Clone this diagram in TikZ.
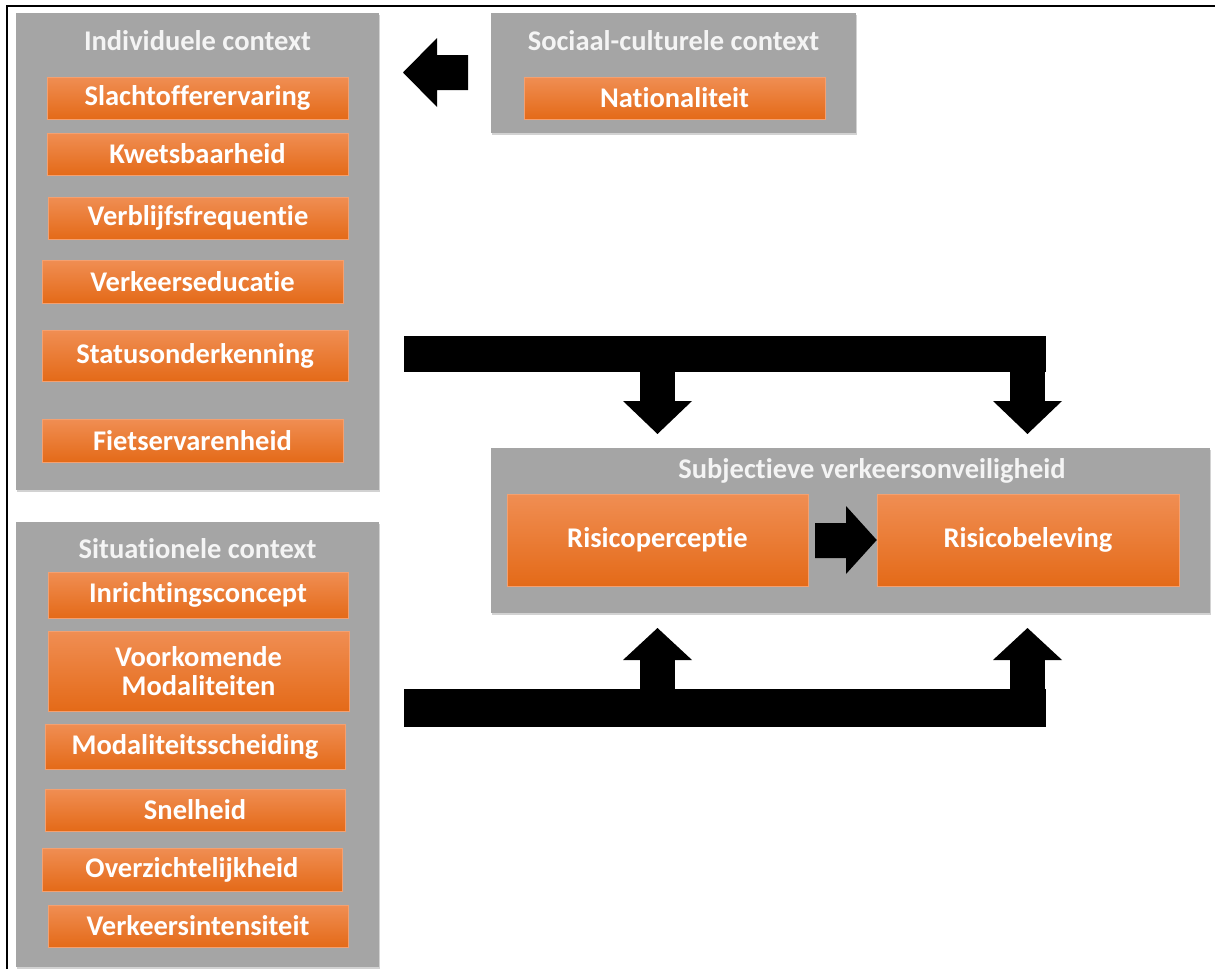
\documentclass[tikz,border=0pt]{standalone}
\usepackage{fontspec}
\setmainfont{Carlito}[Ligatures={NoCommon,NoRequired,NoContextual}]
\usetikzlibrary{shadows,calc}
\definecolor{boxgray}{HTML}{A5A5A5}
\definecolor{titlegray}{HTML}{F4F4F4}
\definecolor{orTop}{HTML}{F08E53}
\definecolor{orMid}{HTML}{F47E30}
\definecolor{orBot}{HTML}{E46A18}
\definecolor{orEdge}{HTML}{F4A070}
\tikzset{
  graybox/.style={rectangle, fill=boxgray, inner sep=0pt,
    drop shadow={shadow xshift=1.2pt, shadow yshift=-2.2pt, opacity=0.35}},
  obox/.style={rectangle, inner sep=0pt, top color=orTop, middle color=orMid,
    bottom color=orBot, draw=orEdge, line width=0.5pt, text=white,
    font=\fontsize{28.5}{30}\selectfont\bfseries, align=center},
  gtitle/.style={text=titlegray, font=\fontsize{28.5}{30}\selectfont\bfseries, inner sep=0pt},
  blk/.style={fill=black, draw=none}
}
\begin{document}
\begin{tikzpicture}[x=1pt,y=-1pt]
\useasboundingbox (0,0) rectangle (1215,969);
\fill[white] (0,0) rectangle (1215,969);
% frame lines
\draw[line width=2.5pt, black] (7,969) -- (7,6) -- (1215,6);

% containers
\node[graybox, minimum width=363pt, minimum height=477pt] (ind) at (197.5,251.5) {};
\node[graybox, minimum width=365pt, minimum height=120pt] (soc) at (673.5,73) {};
\node[graybox, minimum width=363pt, minimum height=445pt] (sit) at (197.5,744.5) {};
\node[graybox, minimum width=719pt, minimum height=165pt] (subj) at (850.5,530.5) {};

% titles
\node[gtitle] (indt) at (197.5,41) {Individuele context};
\node[gtitle] (soct) at (673.5,41) {Sociaal-culturele context};
\node[gtitle] (sitt) at (197.5,549) {Situationele context};
\node[gtitle] (subjt) at (872,471) {Subjectieve verkeersonveiligheid};

% individual context
\node[obox, minimum width=301pt, minimum height=42pt] (i1) at (197.5,98) {Slachtofferervaring};
\node[obox, minimum width=301pt, minimum height=42pt] (i2) at (197.5,154) {Kwetsbaarheid};
\node[obox, minimum width=300pt, minimum height=42pt] (i3) at (198,218) {Verblijfsfrequentie};
\node[obox, minimum width=301pt, minimum height=43pt] (i4) at (192.5,281.5) {Verkeerseducatie};
\node[obox, minimum width=306pt, minimum height=51pt] (i5) at (195,355.5) {Statusonderkenning};
\node[obox, minimum width=301pt, minimum height=43pt] (i6) at (192.5,440.5) {Fietservarenheid};

% social-cultural
\node[obox, minimum width=301pt, minimum height=42pt] (s1) at (674.5,98) {Nationaliteit};

% situational
\node[obox, minimum width=300pt, minimum height=46pt] (c1) at (198,595) {Inrichtingsconcept};
\node[obox, minimum width=301pt, minimum height=80pt] (c2) at (198.5,671) {Voorkomende\\[-1pt]Modaliteiten};
\node[obox, minimum width=300pt, minimum height=45pt] (c3) at (195,746.5) {Modaliteitsscheiding};
\node[obox, minimum width=300pt, minimum height=42pt] (c4) at (195,810) {Snelheid};
\node[obox, minimum width=300pt, minimum height=43pt] (c5) at (192,869.5) {Overzichtelijkheid};
\node[obox, minimum width=300pt, minimum height=42pt] (c6) at (198,926) {Verkeersintensiteit};

% subjective
\node[obox, minimum width=301pt, minimum height=92pt] (perc) at (657.5,540) {Risicoperceptie};
\node[obox, minimum width=302pt, minimum height=92pt] (bel) at (1028,540) {Risicobeleving};

% arrow social -> individual
\fill[blk] (468,55) -- (437,55) -- (437,38) -- (403,72.5) -- (437,107) -- (437,90) -- (468,90) -- cycle;

% arrow perception -> beleving
\fill[blk] (815,523) -- (846,523) -- (846,506) -- (bel.west) -- (846,574) -- (846,558) -- (815,558) -- cycle;

% top bar with down arrows
\coordinate (tl) at (657.5,434);
\coordinate (tr) at (1027.5,434);
\fill[blk] (404,336) rectangle (1046,372);
\fill[blk] ($(tl)+(-17.5,-62)$) rectangle ($(tl)+(17.5,-32)$);
\fill[blk] ($(tl)+(-34.5,-33)$) -- ($(tl)+(34.5,-33)$) -- (tl) -- cycle;
\fill[blk] ($(tr)+(-17.5,-62)$) rectangle ($(tr)+(17.5,-32)$);
\fill[blk] ($(tr)+(-34.5,-33)$) -- ($(tr)+(34.5,-33)$) -- (tr) -- cycle;

% bottom bar with up arrows
\coordinate (bl) at (657.5,628);
\coordinate (br) at (1027.5,628);
\fill[blk] (404,689) rectangle (1046,727);
\fill[blk] ($(bl)+(-17.5,31)$) rectangle ($(bl)+(17.5,62)$);
\fill[blk] ($(bl)+(-34.5,32)$) -- ($(bl)+(34.5,32)$) -- (bl) -- cycle;
\fill[blk] ($(br)+(-17.5,31)$) rectangle ($(br)+(17.5,62)$);
\fill[blk] ($(br)+(-34.5,32)$) -- ($(br)+(34.5,32)$) -- (br) -- cycle;
\end{tikzpicture}
\end{document}
